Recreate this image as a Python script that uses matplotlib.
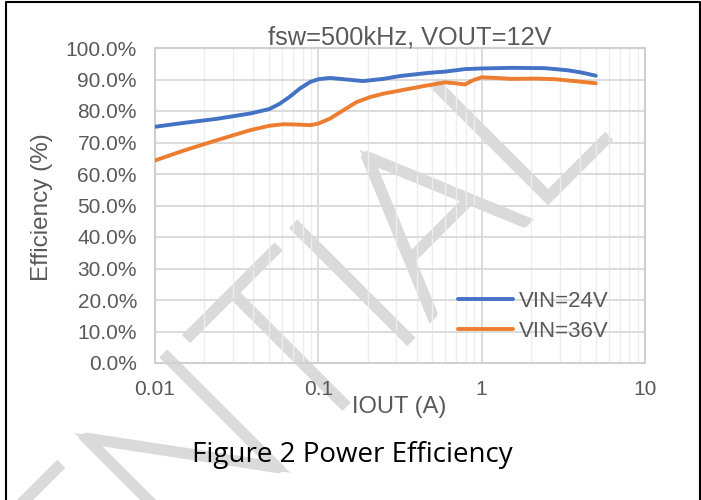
import matplotlib
matplotlib.use('Agg')
import matplotlib.pyplot as plt
from matplotlib.lines import Line2D
from matplotlib.textpath import TextPath
from matplotlib.patches import PathPatch
from matplotlib.font_manager import FontProperties
from matplotlib.transforms import Affine2D
from matplotlib.ticker import FuncFormatter, FixedLocator, NullFormatter

# efficiency curves (IOUT in A, efficiency in %)
iout_24 = [0.01, 0.0149, 0.0238, 0.0382, 0.05, 0.058, 0.0671, 0.077, 0.089, 0.1,
           0.118, 0.142, 0.188, 0.25, 0.316, 0.472, 0.597, 0.79, 1.0, 1.53,
           2.44, 3.4, 4.1, 5.0]
eff_24 = [75.0, 76.2, 77.5, 79.2, 80.6, 82.3, 84.6, 87.1, 89.2, 90.1,
          90.5, 90.1, 89.5, 90.2, 91.1, 92.1, 92.5, 93.3, 93.5, 93.7,
          93.6, 92.9, 92.2, 91.2]

iout_36 = [0.01, 0.0149, 0.0238, 0.0382, 0.05, 0.0611, 0.0737, 0.089, 0.1, 0.118,
           0.142, 0.171, 0.207, 0.25, 0.316, 0.43, 0.597, 0.69, 0.79, 0.88,
           1.0, 1.21, 1.53, 2.1, 2.8, 3.7, 5.0]
eff_36 = [64.3, 67.4, 70.7, 73.9, 75.3, 75.8, 75.7, 75.5, 76.0, 77.6,
          80.2, 82.8, 84.4, 85.5, 86.5, 87.8, 89.1, 88.8, 88.4, 89.7,
          90.7, 90.5, 90.2, 90.3, 90.1, 89.5, 88.8]

series_labels = ['VIN=24V', 'VIN=36V']
x_ticks = [0.01, 0.1, 1, 10]
x_tick_labels = ['0.01', '0.1', '1', '10']
y_ticks = [0, 10, 20, 30, 40, 50, 60, 70, 80, 90, 100]

title = 'fsw=500kHz, VOUT=12V'
xlabel = 'IOUT (A)'
ylabel = 'Efficiency (%)'
caption = 'Figure 2 Power Efficiency'
watermark = 'CONFIDENTIAL'

W, H = 701, 500
grey_text = '#595959'

plt.rcParams['font.family'] = ['Liberation Sans', 'DejaVu Sans']

fig = plt.figure(figsize=(W / 100, H / 100), dpi=100)
ax = fig.add_axes([155 / W, 137 / H, 490 / W, 315 / H])

ax.plot(iout_24, eff_24, color='#4472C4', lw=2.8, label=series_labels[0],
        solid_capstyle='round', zorder=3)
ax.plot(iout_36, eff_36, color='#ED7D31', lw=2.8, label=series_labels[1],
        solid_capstyle='round', zorder=3)

ax.set_xscale('log')
ax.set_xlim(0.01, 10)
ax.set_ylim(0, 100)
ax.xaxis.set_major_locator(FixedLocator(x_ticks))
ax.set_xticklabels(x_tick_labels)
ax.xaxis.set_minor_formatter(NullFormatter())
ax.set_yticks(y_ticks)
ax.yaxis.set_major_formatter(FuncFormatter(lambda v, p: f'{v:.1f}%'))

ax.grid(True, which='major', color='#d9d9d9', lw=1.3)
ax.grid(True, which='minor', axis='x', color='#ededed', lw=1.0)
ax.tick_params(which='both', length=0)
ax.tick_params(axis='y', labelsize=15, labelcolor=grey_text, pad=13)
ax.tick_params(axis='x', labelsize=15, labelcolor=grey_text, pad=12)
for s in ax.spines.values():
    s.set_color('#d0d0d0')
    s.set_linewidth(1.5)

leg = ax.legend(loc='upper left', bbox_to_anchor=((458 - 155) / 490, (209 - 137) / 315),
                frameon=False, fontsize=16, borderpad=0, borderaxespad=0,
                handlelength=2.48, handletextpad=0.25, labelspacing=0.39)
for t in leg.get_texts():
    t.set_color(grey_text)

fig.text(410 / W, 456 / H, title, ha='center', va='baseline', fontsize=18.3, color=grey_text)
fig.text(399 / W, 87 / H, xlabel, ha='center', va='baseline', fontsize=17, color=grey_text)
fig.text(42 / W, 293 / H, ylabel, ha='center', va='center', rotation=90,
         fontsize=17.5, color=grey_text)
fig.text(352 / W, 38 / H, caption, ha='center', va='baseline', fontsize=20,
         color='black', family=['Open Sans', 'DejaVu Sans'])

# grey watermark, drawn in pixel coords, behind the curves
# thin font outline thickened with an edge stroke of the same colour
wm_path = TextPath((0, 0), watermark, size=226,
                   prop=FontProperties(family=['Lato', 'Roboto', 'DejaVu Sans'], weight='light'))
xmax = wm_path.get_extents().x1
wm_tr = Affine2D().translate(-xmax, 0).rotate_deg(45).translate(607, 360)
wm = PathPatch(wm_path, facecolor='#dadada', edgecolor='#dadada', lw=6.5,
               joinstyle='miter', transform=wm_tr, zorder=1.0, clip_on=False)
ax.add_artist(wm)

# page border (left, top, right)
fig.add_artist(Line2D([5.7, 5.7, 699.5, 699.5], [0, 497.7, 497.7, 0],
                      transform=None, color='black', lw=1.5))

fig.savefig('out.png', dpi=100)
